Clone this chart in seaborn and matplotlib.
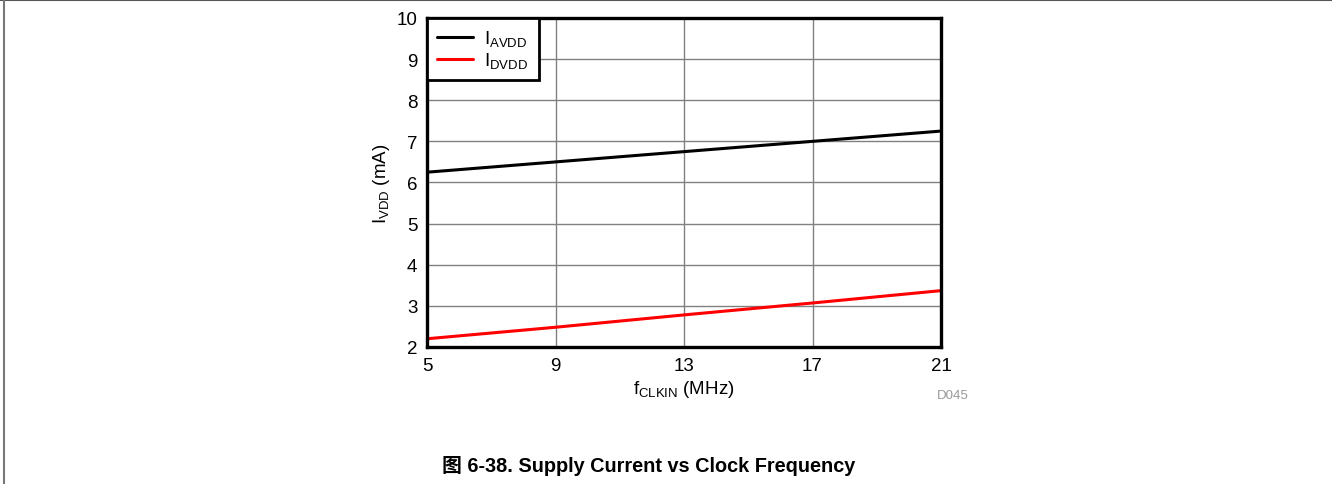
import seaborn as sns
import numpy as np
import pandas as pd
import matplotlib.pyplot as plt
from matplotlib.lines import Line2D

# values
freq = [5, 9, 13, 17, 21]
i_avdd = [6.25, 6.5, 6.75, 7.0, 7.25]
i_dvdd = [2.2, 2.48, 2.78, 3.07, 3.37]
labels = [r"$\mathregular{I_{AVDD}}$", r"$\mathregular{I_{DVDD}}$"]
xticks = [5, 9, 13, 17, 21]
yticks = [2, 3, 4, 5, 6, 7, 8, 9, 10]

df = pd.DataFrame({
    "freq": freq * 2,
    "current": i_avdd + i_dvdd,
    "series": [labels[0]] * len(freq) + [labels[1]] * len(freq),
})

sns.set_style("white")
plt.rcParams["font.family"] = ["Liberation Sans", "Noto Sans CJK SC", "DejaVu Sans"]
plt.rcParams["mathtext.fontset"] = "custom"
plt.rcParams["mathtext.rm"] = "Liberation Sans"
plt.rcParams["text.color"] = "black"
plt.rcParams["axes.labelcolor"] = "black"

fs = 13.5
fig = plt.figure(figsize=(13.32, 4.85), dpi=100)
ax = fig.add_axes([0.3206, 0.2825, 0.3859, 0.6784])

sns.lineplot(data=df, x="freq", y="current", hue="series",
             palette=["black", "#ff0000"], linewidth=2.2, ax=ax, legend=False)

ax.set_xlim(5, 21)
ax.set_ylim(2, 10)
ax.set_xticks(xticks)
ax.set_yticks(yticks)
ax.grid(True, color="#808080", linewidth=1.0)
ax.tick_params(length=0, labelsize=fs, pad=7, colors="black")
for s in ax.spines.values():
    s.set_linewidth(2.4)
    s.set_color("black")
    s.set_visible(True)

ax.set_xlabel(r"f$\mathregular{_{CLKIN}}$ (MHz)", fontsize=fs, labelpad=3)
ax.set_ylabel(r"I$\mathregular{_{VDD}}$ (mA)", fontsize=fs, labelpad=3)

handles = [Line2D([], [], color="black", lw=2.2), Line2D([], [], color="#ff0000", lw=2.2)]
leg = ax.legend(handles, labels, loc="upper left", fontsize=fs, frameon=True,
                fancybox=False, framealpha=1, borderaxespad=0, handlelength=1.9,
                labelspacing=0.1, borderpad=0.55, handletextpad=0.6)
leg.get_frame().set_edgecolor("black")
leg.get_frame().set_linewidth(2.0)

fig.text(0.7155, 0.183, "D045", fontsize=9.5, color="#999999", ha="center", va="center")
fig.text(0.487, 0.040, "图 6-38. Supply Current vs Clock Frequency",
         fontsize=14.3, fontweight="bold", ha="center", va="center")

# page frame lines
fig.add_artist(Line2D([0, 1], [0.998, 0.998], transform=fig.transFigure, color="#555555", lw=1.5))
fig.add_artist(Line2D([0.0028, 0.0028], [0, 1], transform=fig.transFigure, color="#777777", lw=1.5))

fig.savefig("out.png", dpi=100)
